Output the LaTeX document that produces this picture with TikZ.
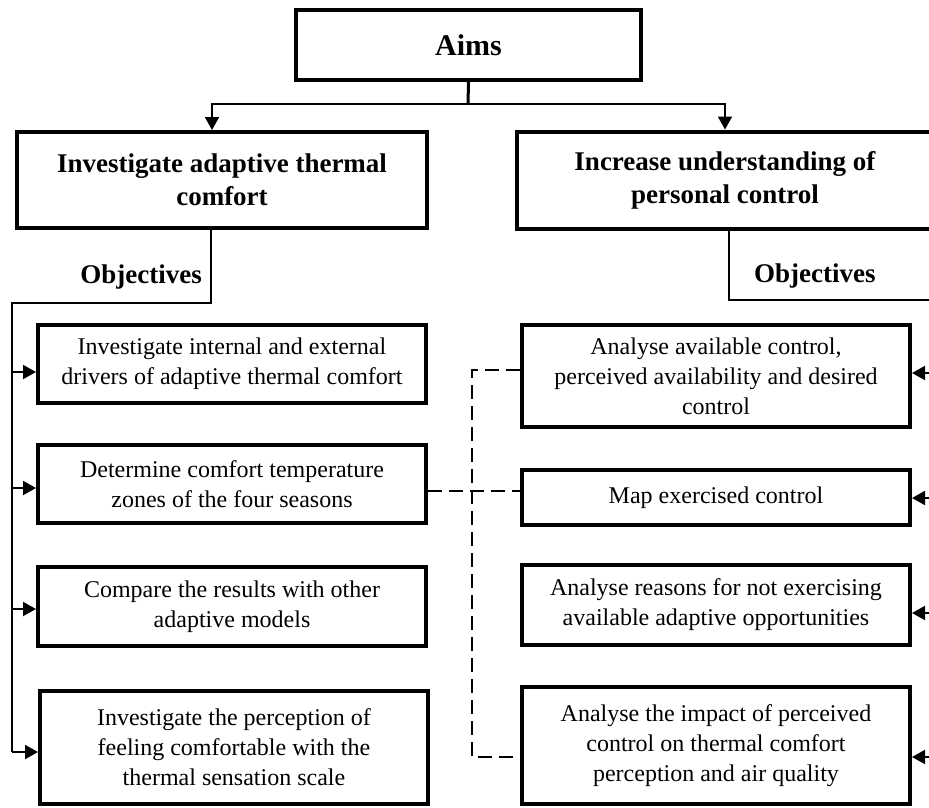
\documentclass[tikz,border=0pt]{standalone}
\usepackage{fontspec}
\setmainfont{Liberation Serif}
\usetikzlibrary{arrows.meta}
\begin{document}
\begin{tikzpicture}[x=1pt,y=-1pt,
  box/.style={draw,line width=4pt,align=center,inner sep=0pt,font=\fontsize{24}{30}\selectfont,minimum width=388pt},
  aimbox/.style={draw,line width=4pt,align=center,inner sep=0pt,font=\bfseries\fontsize{27}{33}\selectfont},
  conn/.style={line width=2pt},
  arr/.style={line width=2pt,-{Triangle[length=13pt,width=14pt]}},
  dsh/.style={line width=2pt,dash pattern=on 14pt off 7pt},
  lbl/.style={font=\bfseries\fontsize{27}{33}\selectfont,inner sep=0pt}]
\useasboundingbox (0,0) rectangle (929,807);
% aims
\node[aimbox,minimum width=345pt,minimum height=70pt,font=\bfseries\fontsize{30}{36}\selectfont] (aims) at (468.5,45) {Aims};
\node[aimbox,minimum width=410pt,minimum height=96pt] (la) at (222,180) {Investigate adaptive thermal\\comfort};
\node[aimbox,minimum width=416pt,minimum height=97pt] (ra) at (725,180) {Increase understanding of\\personal control};
% objectives
\node[box,minimum height=78pt] (l1) at (232,364) {Investigate internal and external\\drivers of adaptive thermal comfort};
\node[box,minimum height=78pt] (l2) at (232,484) {Determine comfort temperature\\zones of the four seasons};
\node[box,minimum height=79pt] (l3) at (232,606.5) {Compare the results with other\\adaptive models};
\node[box,minimum height=113pt] (l4) at (234,747.5) {Investigate the perception of\\feeling comfortable with the\\thermal sensation scale};
\node[box,minimum height=102pt] (r1) at (716,376) {Analyse available control,\\perceived availability and desired\\control};
\node[box,minimum height=55pt] (r2) at (716,497.5) {Map exercised control};
\node[box,minimum height=80pt] (r3) at (716,605) {Analyse reasons for not exercising\\available adaptive opportunities};
\node[box,minimum height=117pt] (r4) at (716,745.5) {Analyse the impact of perceived\\control on thermal comfort\\perception and air quality};
% labels
\node[lbl,anchor=base east] (lobj) at (202,283) {Objectives};
\node[lbl,anchor=base west] (robj) at (754,282) {Objectives};
% top connectors
\coordinate (j) at (468,104);
\draw[line width=3pt] (aims.south) -- (j);
\draw[arr] (j) -| ([xshift=-10pt]la.north);
\draw[arr] (j) -| (ra.north);
% left spine
\coordinate (lt) at (12,303);
\coordinate (lb) at (12,752);
\draw[conn] ([xshift=-11pt]la.south) |- (lt) -- (lb);
\coordinate (la1) at (12,372);
\coordinate (la2) at (12,488);
\coordinate (la3) at (12,609);
\coordinate (la4) at (12,752);
\draw[arr] (la1) -- (la1 -| l1.west);
\draw[arr] (la2) -- (la2 -| l2.west);
\draw[arr] (la3) -- (la3 -| l3.west);
\draw[arr] (la4) -- (la4 -| l4.west);
% right spine
\coordinate (rt) at (945,300);
\coordinate (rb) at (945,757);
\draw[conn] ([xshift=4pt]ra.south) |- (rt) -- (rb);
\coordinate (ra1) at (945,373);
\coordinate (ra2) at (945,498);
\coordinate (ra3) at (945,613);
\coordinate (ra4) at (945,757);
\draw[arr] (ra1) -- (ra1 -| r1.east);
\draw[arr] (ra2) -- (ra2 -| r2.east);
\draw[arr] (ra3) -- (ra3 -| r3.east);
\draw[arr] (ra4) -- (ra4 -| r4.east);
% dashed links
\coordinate (dt) at (472,370);
\coordinate (dm) at (472,491);
\coordinate (db) at (472,757);
\draw[dsh] (r1.west |- dt) -- (dt) -- (db) -- (r4.west |- db);
\draw[dsh] (l2.east |- dm) -- (r2.west |- dm);
\end{tikzpicture}
\end{document}
